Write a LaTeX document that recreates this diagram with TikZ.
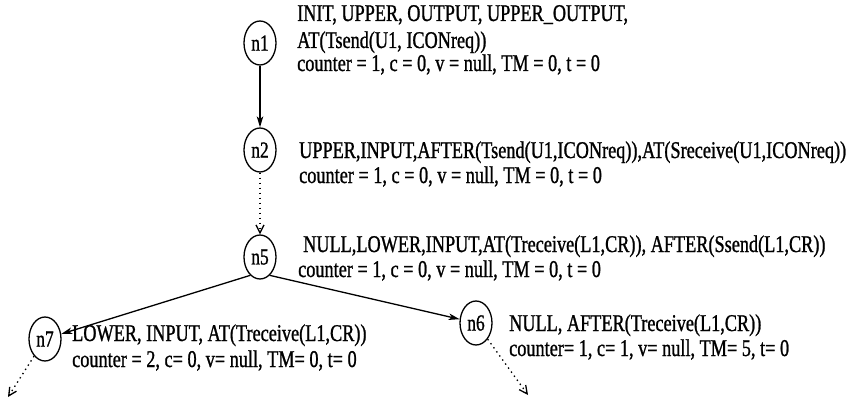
\documentclass[tikz,border=0pt]{standalone}
\usepackage{fontspec}
\setmainfont[FakeStretch=0.76,FakeBold=1]{Liberation Serif}
\usetikzlibrary{arrows.meta,shapes.geometric}
\begin{document}
\begin{tikzpicture}[x=1pt,y=-1pt,
  state/.style={draw, ellipse, line width=1.3pt, minimum width=32pt,
    minimum height=44pt, inner sep=0pt, font=\fontsize{23}{24}\selectfont},
  lbl/.style={anchor=base west, inner sep=0pt, font=\fontsize{24}{25}\selectfont},
  solidarrow/.style={line width=1.3pt, -{Stealth[length=11pt,width=6.5pt,inset=3pt]}},
  dotarrow/.style={line width=1.3pt, dash pattern=on 1.4pt off 3.6pt,
    -{Straight Barb[length=8pt,width=8pt]}}]
\useasboundingbox (0,0) rectangle (858,406);

% states
\node[state] (n1) at (260,43) {n1};
\node[state] (n2) at (260,150) {n2};
\node[state] (n5) at (260,257) {n5};
\node[state] (n7) at (45,339) {n7};
\node[state] (n6) at (476,323) {n6};

% open ends of the dotted continuations
\coordinate (e7) at (8,397);
\coordinate (e6) at (528,395);

% annotations
\node[lbl] (t1a) at (297,21) {INIT, UPPER, OUTPUT, UPPER\_OUTPUT,};
\node[lbl] (t1b) at (297,48) {AT(Tsend(U1, ICONreq))};
\node[lbl] (t1c) at (297,71) {counter = 1, c = 0, v = null, TM = 0, t = 0};

\node[lbl] (t2a) at (299,158) {UPPER,INPUT,AFTER(Tsend(U1,ICONreq)),AT(Sreceive(U1,ICONreq))};
\node[lbl] (t2b) at (299,183) {counter = 1, c = 0, v = null, TM = 0, t = 0};

\node[lbl] (t5a) at (303,252) {NULL,LOWER,INPUT,AT(Treceive(L1,CR)), AFTER(Ssend(L1,CR))};
\node[lbl] (t5b) at (298,277) {counter = 1, c = 0, v = null, TM = 0, t = 0};

\node[lbl] (t7a) at (72,341) {LOWER, INPUT, AT(Treceive(L1,CR))};
\node[lbl] (t7b) at (72,367) {counter = 2, c= 0, v= null, TM= 0, t= 0};

\node[lbl] (t6a) at (509,331) {NULL, AFTER(Treceive(L1,CR))};
\node[lbl] (t6b) at (509,356) {counter= 1, c= 1, v= null, TM= 5, t= 0};

% transitions
\draw[solidarrow] (n1) -- (n2);
\draw[dotarrow] (n2) -- (n5);
\draw[solidarrow] (n5.-118) -- (n7);
\draw[solidarrow] (n5.-62) -- (n6);
\draw[dotarrow] (n7) -- (e7);
\draw[dotarrow] (n6) -- (e6);
\end{tikzpicture}
\end{document}
